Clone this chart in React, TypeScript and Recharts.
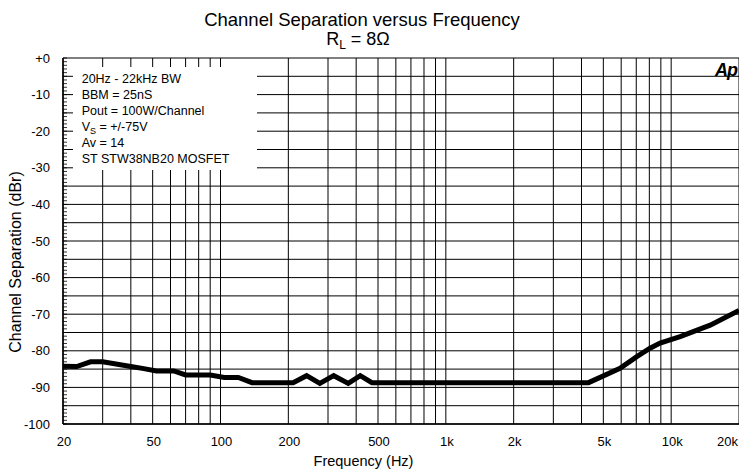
import React from "react";
import { LineChart, Line, XAxis, YAxis, CartesianGrid } from "recharts";

// Channel separation measured at RL = 8 ohm
const freqHz = [
  20, 23, 26.5, 30, 40, 45, 52, 62, 70, 90, 104, 120, 138, 210, 241, 276, 318,
  369, 417, 470, 4300, 5930, 7040, 8060, 8930, 10960, 14900, 20000,
];
const sepDb = [
  -84.2, -84.3, -83, -83, -84.3, -84.8, -85.5, -85.5, -86.6, -86.6, -87.3,
  -87.3, -88.7, -88.7, -86.8, -88.9, -86.8, -88.9, -86.8, -88.7, -88.7, -84.8,
  -81.6, -79.3, -77.9, -76.1, -73, -69,
];

const freqTicks = [20, 50, 100, 200, 500, 1000, 2000, 5000, 10000, 20000];
const freqTickLabels = ["20", "50", "100", "200", "500", "1k", "2k", "5k", "10k", "20k"];
const gridFreqs = [
  20, 30, 40, 50, 60, 70, 80, 90, 100, 200, 300, 400, 500, 600, 700, 800, 900,
  1000, 2000, 3000, 4000, 5000, 6000, 7000, 8000, 9000, 10000, 20000,
];
const gridDb = [
  0, -5, -10, -15, -20, -25, -30, -35, -40, -45, -50, -55, -60, -65, -70, -75,
  -80, -85, -90, -95, -100,
];
const minorDb = Array.from({ length: 101 }, (_, i) => -i);

const notes = [
  "20Hz - 22kHz BW",
  "BBM = 25nS",
  "Pout = 100W/Channel",
  "VS = +/-75V",
  "Av = 14",
  "ST STW38NB20 MOSFET",
];

const rows = freqHz.map((f, i) => ({ f, sep: sepDb[i] }));

const FONT = "'Liberation Sans', Arial, sans-serif";

function XTick(props: any) {
  const { x, y, payload } = props;
  const idx = freqTicks.indexOf(payload.value);
  if (idx < 0) return null;
  const last = payload.value === 20000;
  return (
    <text
      x={last ? x - 1 : x + 1}
      y={y}
      dy="0.71em"
      textAnchor={last ? "end" : "middle"}
      fontSize={13}
      fontFamily={FONT}
      fill="#000"
    >
      {freqTickLabels[idx]}
    </text>
  );
}

function YTick(props: any) {
  const { x, y, payload } = props;
  const v = payload.value;
  return (
    <g>
      <line x1={x} x2={x + 4} y1={y} y2={y} stroke="#000" strokeWidth={0.8} />
      {v % 10 === 0 && (
        <text
          x={x - 13}
          y={y}
          dy="0.355em"
          textAnchor="end"
          fontSize={13}
          fontFamily={FONT}
          fill="#000"
        >
          {v === 0 ? "+0" : String(v)}
        </text>
      )}
    </g>
  );
}

function NoteLine({ text, i }: { text: string; i: number }) {
  const y = 82.7 + i * 16.1;
  if (text.startsWith("VS")) {
    return (
      <text x={81.7} y={y} fontSize={12.5}>
        V<tspan fontSize={9} dy={3}>S</tspan>
        <tspan dy={-3}>{text.slice(2)}</tspan>
      </text>
    );
  }
  return (
    <text x={81.7} y={y} fontSize={12.5}>
      {text}
    </text>
  );
}

export default function App() {
  return (
    <div
      style={{
        position: "absolute",
        left: 0,
        top: 0,
        width: 739,
        height: 470,
        background: "#fff",
      }}
    >
      <LineChart
        width={739}
        height={470}
        data={rows}
        margin={{ top: 58, right: 0, bottom: 0, left: 0 }}
      >
        <CartesianGrid
          stroke="#000"
          strokeWidth={1}
          verticalValues={gridFreqs}
          horizontalValues={gridDb}
        />
        <XAxis
          dataKey="f"
          type="number"
          scale="log"
          domain={[20, 20000]}
          ticks={gridFreqs}
          interval={0}
          height={46}
          tickSize={0}
          tickMargin={12.5}
          tickLine={false}
          axisLine={{ stroke: "#000", strokeWidth: 1.5 }}
          tick={<XTick />}
          allowDataOverflow
        />
        <YAxis
          type="number"
          domain={[-100, 0]}
          ticks={minorDb}
          interval={0}
          width={63}
          tickSize={0}
          tickMargin={0}
          tickLine={false}
          axisLine={{ stroke: "#000", strokeWidth: 1.5 }}
          tick={<YTick />}
          allowDataOverflow
        />
        <Line
          type="linear"
          dataKey="sep"
          stroke="#000"
          strokeWidth={5}
          dot={false}
          isAnimationActive={false}
        />
      </LineChart>

      <svg
        width={739}
        height={470}
        style={{ position: "absolute", left: 0, top: 0, pointerEvents: "none" }}
        fontFamily={FONT}
        fill="#000"
      >
        <text x={362} y={26} textAnchor="middle" fontSize={18.5}>
          Channel Separation versus Frequency
        </text>
        <text x={358} y={45} textAnchor="middle" fontSize={18}>
          R<tspan fontSize={12} dy={4}>L</tspan>
          <tspan dy={-4}> = 8Ω</tspan>
        </text>
        <rect x={73} y={67} width={184} height={103} fill="#fff" />
        {notes.map((t, i) => (
          <NoteLine key={t} text={t} i={i} />
        ))}
        <text
          transform="translate(21,262) rotate(-90)"
          textAnchor="middle"
          fontSize={16}
        >
          Channel Separation (dBr)
        </text>
        <text x={363.5} y={466} textAnchor="middle" fontSize={14.5}>
          Frequency (Hz)
        </text>
        <text
          x={737}
          y={76}
          textAnchor="end"
          fontSize={18}
          fontWeight="bold"
          fontStyle="italic"
          letterSpacing={-1}
        >
          Ap
        </text>
      </svg>
    </div>
  );
}
